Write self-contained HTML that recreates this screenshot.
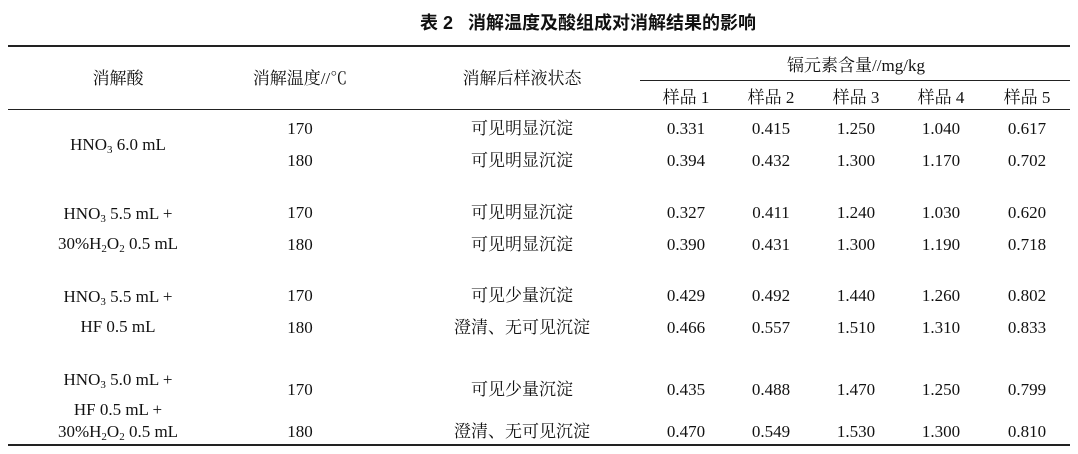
<!DOCTYPE html>
<html><head><meta charset="utf-8">
<style>
body{margin:0;width:1078px;height:454px;background:#fff;position:relative;overflow:hidden;font-family:"Liberation Serif","Noto Serif CJK SC",serif;color:#111;}
.t{position:absolute;width:240px;text-align:center;font-size:17px;line-height:20px;white-space:nowrap;margin-top:2px;}
.r{position:absolute;background:#222;}
sub{font-size:11px;vertical-align:-3px;line-height:0;}
</style></head><body>
<div class="t" style="left:420px;top:11px;font-weight:bold;font-size:18px;font-family:'Liberation Sans','Noto Sans CJK SC',sans-serif;">表 2&nbsp;&nbsp;&nbsp;消解温度及酸组成对消解结果的影响</div>
<div class="r" style="left:8px;top:45px;width:1062px;height:2px"></div>
<div class="r" style="left:640px;top:80px;width:430px;height:1px"></div>
<div class="r" style="left:8px;top:109px;width:1062px;height:1px"></div>
<div class="r" style="left:8px;top:444px;width:1062px;height:2px"></div>

<div class="t" style="left:-2px;top:67px">消解酸</div>
<div class="t" style="left:180px;top:67px">消解温度//℃</div>
<div class="t" style="left:402px;top:67px">消解后样液状态</div>
<div class="t" style="left:736px;top:54px">镉元素含量//mg/kg</div>
<div class="t" style="left:566px;top:86px">样品 1</div>
<div class="t" style="left:651px;top:86px">样品 2</div>
<div class="t" style="left:736px;top:86px">样品 3</div>
<div class="t" style="left:821px;top:86px">样品 4</div>
<div class="t" style="left:907px;top:86px">样品 5</div>

<div class="t" style="left:-2px;top:133px">HNO<sub>3</sub> 6.0 mL</div>
<div class="t" style="left:-2px;top:202px">HNO<sub>3</sub> 5.5 mL +</div>
<div class="t" style="left:-2px;top:232px">30%H<sub>2</sub>O<sub>2</sub> 0.5 mL</div>
<div class="t" style="left:-2px;top:285px">HNO<sub>3</sub> 5.5 mL +</div>
<div class="t" style="left:-2px;top:315px">HF 0.5 mL</div>
<div class="t" style="left:-2px;top:368px">HNO<sub>3</sub> 5.0 mL +</div>
<div class="t" style="left:-2px;top:398px">HF 0.5 mL +</div>
<div class="t" style="left:-2px;top:420px">30%H<sub>2</sub>O<sub>2</sub> 0.5 mL</div>

<div class="t" style="left:180px;top:117px">170</div>
<div class="t" style="left:180px;top:149px">180</div>
<div class="t" style="left:180px;top:201px">170</div>
<div class="t" style="left:180px;top:233px">180</div>
<div class="t" style="left:180px;top:284px">170</div>
<div class="t" style="left:180px;top:316px">180</div>
<div class="t" style="left:180px;top:378px">170</div>
<div class="t" style="left:180px;top:420px">180</div>

<div class="t" style="left:402px;top:117px">可见明显沉淀</div>
<div class="t" style="left:402px;top:149px">可见明显沉淀</div>
<div class="t" style="left:402px;top:201px">可见明显沉淀</div>
<div class="t" style="left:402px;top:233px">可见明显沉淀</div>
<div class="t" style="left:402px;top:284px">可见少量沉淀</div>
<div class="t" style="left:402px;top:316px">澄清、无可见沉淀</div>
<div class="t" style="left:402px;top:378px">可见少量沉淀</div>
<div class="t" style="left:402px;top:420px">澄清、无可见沉淀</div>

<div class="t" style="left:566px;top:117px">0.331</div><div class="t" style="left:651px;top:117px">0.415</div><div class="t" style="left:736px;top:117px">1.250</div><div class="t" style="left:821px;top:117px">1.040</div><div class="t" style="left:907px;top:117px">0.617</div>
<div class="t" style="left:566px;top:149px">0.394</div><div class="t" style="left:651px;top:149px">0.432</div><div class="t" style="left:736px;top:149px">1.300</div><div class="t" style="left:821px;top:149px">1.170</div><div class="t" style="left:907px;top:149px">0.702</div>
<div class="t" style="left:566px;top:201px">0.327</div><div class="t" style="left:651px;top:201px">0.411</div><div class="t" style="left:736px;top:201px">1.240</div><div class="t" style="left:821px;top:201px">1.030</div><div class="t" style="left:907px;top:201px">0.620</div>
<div class="t" style="left:566px;top:233px">0.390</div><div class="t" style="left:651px;top:233px">0.431</div><div class="t" style="left:736px;top:233px">1.300</div><div class="t" style="left:821px;top:233px">1.190</div><div class="t" style="left:907px;top:233px">0.718</div>
<div class="t" style="left:566px;top:284px">0.429</div><div class="t" style="left:651px;top:284px">0.492</div><div class="t" style="left:736px;top:284px">1.440</div><div class="t" style="left:821px;top:284px">1.260</div><div class="t" style="left:907px;top:284px">0.802</div>
<div class="t" style="left:566px;top:316px">0.466</div><div class="t" style="left:651px;top:316px">0.557</div><div class="t" style="left:736px;top:316px">1.510</div><div class="t" style="left:821px;top:316px">1.310</div><div class="t" style="left:907px;top:316px">0.833</div>
<div class="t" style="left:566px;top:378px">0.435</div><div class="t" style="left:651px;top:378px">0.488</div><div class="t" style="left:736px;top:378px">1.470</div><div class="t" style="left:821px;top:378px">1.250</div><div class="t" style="left:907px;top:378px">0.799</div>
<div class="t" style="left:566px;top:420px">0.470</div><div class="t" style="left:651px;top:420px">0.549</div><div class="t" style="left:736px;top:420px">1.530</div><div class="t" style="left:821px;top:420px">1.300</div><div class="t" style="left:907px;top:420px">0.810</div>
</body></html>
